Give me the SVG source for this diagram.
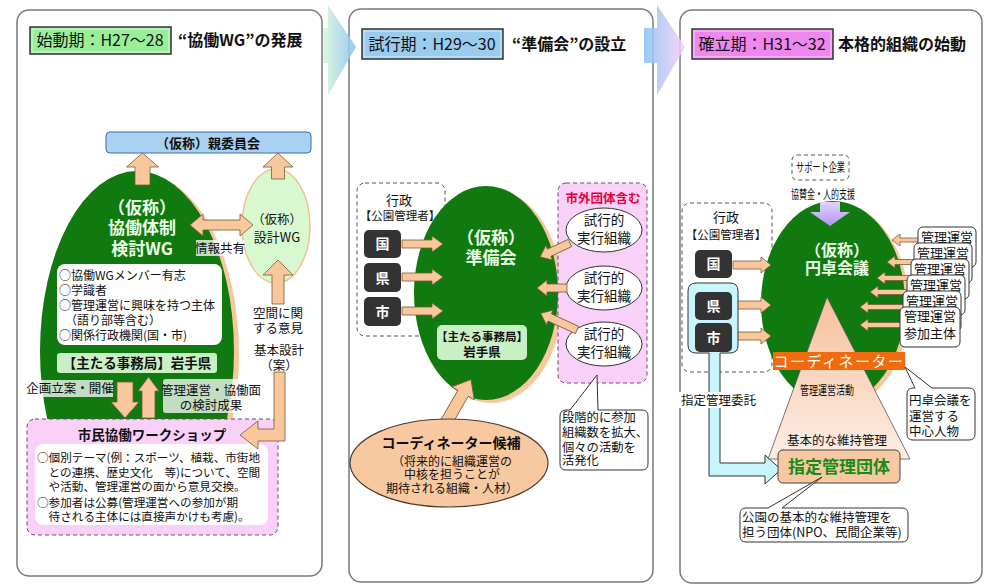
<svg xmlns="http://www.w3.org/2000/svg" width="986" height="586" viewBox="0 0 986 586">
<defs>
<linearGradient id="g1" x1="0" y1="0" x2="1" y2="0"><stop offset="0" stop-color="#d8f6d8"/><stop offset="1" stop-color="#86c2f0"/></linearGradient>
<linearGradient id="g2" x1="0" y1="0" x2="1" y2="0"><stop offset="0" stop-color="#88c2f4"/><stop offset="1" stop-color="#f8ccf8"/></linearGradient>
<linearGradient id="gl" x1="0" y1="0" x2="0" y2="1"><stop offset="0" stop-color="#e2d4fa"/><stop offset="1" stop-color="#b494f0"/></linearGradient>
<linearGradient id="gt" x1="0" y1="0" x2="0" y2="1"><stop offset="0" stop-color="#f5c09a"/><stop offset="1" stop-color="#fdeee6"/></linearGradient>
</defs>
<style>
text{font-family:"Noto Sans CJK JP","Noto Sans CJK SC",sans-serif;fill:#111}
.panel{fill:#fff;stroke:#7a7a7a;stroke-width:1.5}
.pe{fill:#f8c79c;stroke:#7a5a3a;stroke-width:0.8}
.green{fill:#107a10}
.shadow{fill:#f8c79c}
.lg{fill:#c9f0c4}
.wbg{fill:#fff;opacity:0.75}
.dash{fill:#fff;stroke:#555;stroke-width:1;stroke-dasharray:4 3}
.pink{fill:#f8d0f8;stroke:#6a4a6a;stroke-width:1;stroke-dasharray:4 3}
.dark{fill:#333}
.wt{fill:#fff;font-weight:bold}
.gt{fill:#eaffe6;font-weight:bold}
.c{text-anchor:middle}
.b{font-weight:bold}
.call{fill:#fff;stroke:#333;stroke-width:1}
.badge{stroke:#333;stroke-width:1.5}
.bin{fill:none;stroke:#fff;stroke-opacity:0.6;stroke-width:1}
</style>

<!-- panels -->
<g id="panel1"><rect class="panel" x="17" y="10" width="305" height="566" rx="12"/></g>
<g id="panel2"><rect class="panel" x="349" y="9" width="304" height="573" rx="12"/></g>
<g id="panel3"><rect class="panel" x="680" y="10" width="302" height="573" rx="12"/></g>

<!-- phase chevrons -->
<g id="chevrons">
<polygon points="323,28 328,28 328,5 356,47 328,95 328,63 323,63" fill="url(#g1)" opacity="0.85"/>
<polygon points="644,28 657,28 657,5 685,47 657,95 657,63 644,63" fill="url(#g2)" opacity="0.85"/>
</g>

<!-- ===== Panel 1 ===== -->
<g id="p1-title">
<rect class="badge" x="30" y="27" width="141" height="27" fill="#99ee99"/>
<rect class="bin" x="32" y="29" width="137" height="23"/>
<text class="c" x="100" y="46" font-size="16">始動期：H27～28</text>
<text class="b" x="178" y="46" font-size="16">“協働WG”の発展</text>
</g>

<g id="p1-oyaiinkai">
<rect x="106" y="132" width="205" height="21" rx="4" fill="#a9d2f2" stroke="#3a6aa8" stroke-width="1"/>
<text class="c b" x="208" y="147.5" font-size="13">（仮称）親委員会</text>
</g>

<g id="p1-kyodo-wg">
<ellipse class="shadow" cx="142" cy="354" rx="97" ry="180"/>
<ellipse class="green" cx="137" cy="351" rx="97" ry="180"/>
<text class="c gt" font-size="17"><tspan x="142" y="214">（仮称）</tspan><tspan x="142" y="234">協働体制</tspan><tspan x="142" y="255">検討WG</tspan></text>
<rect x="57" y="264" width="165" height="81" rx="8" fill="#fff"/>
<text font-size="12"><tspan x="59" y="280">○協働WGメンバー有志</tspan><tspan x="59" y="295">○学識者</tspan><tspan x="59" y="310">○管理運営に興味を持つ主体</tspan><tspan x="59" y="325">　（語り部等含む）</tspan><tspan x="59" y="340">○関係行政機関(国・市)</tspan></text>
<rect class="lg" x="57" y="353" width="160" height="20" rx="3"/>
<text class="c b" x="137" y="368" font-size="13.5">【主たる事務局】岩手県</text>
</g>

<g id="p1-sekkei-wg">
<ellipse cx="276" cy="226" rx="34" ry="57" fill="#d8f8d0" stroke="#f0c090" stroke-width="1.5"/>
<text class="c" font-size="12.5"><tspan x="277" y="223.5">（仮称）</tspan><tspan x="277" y="241.5" font-size="13">設計WG</tspan></text>
</g>

<g id="p1-workshop">
<rect class="pink" x="27" y="419" width="251" height="116" rx="8"/>
<text class="c b" x="152" y="440" font-size="13.5">市民協働ワークショップ</text>
<rect x="35" y="444" width="233" height="81" rx="8" fill="#fff"/>
<text font-size="11.6"><tspan x="37" y="462">○個別テーマ(例：スポーツ、植栽、市街地</tspan><tspan x="37" y="477">　との連携、歴史文化　等)について、空間</tspan><tspan x="37" y="491">　や活動、管理運営の面から意見交換。</tspan><tspan x="37" y="507">○参加者は公募(管理運営への参加が期</tspan><tspan x="37" y="521">　待される主体には直接声かけも考慮)。</tspan></text>
</g>

<g id="p1-connectors">
<polygon class="pe" points="142.5,153 158.5,167 150,167 150,185 135,185 135,167 126.5,167"/>
<polygon class="pe" points="278,153 293,167 284.5,167 284.5,179 271.5,179 271.5,167 263,167"/>
<polygon class="pe" points="190,225 203,214 203,220 240,220 240,214 253,225 240,236 240,230 203,230 203,236"/>
<rect class="wbg" x="196" y="240" width="48" height="16"/>
<text class="c" x="220" y="252.5" font-size="12.5">情報共有</text>
<polygon class="pe" points="278,260 293,275 284,275 284,304 272,304 272,275 263,275"/>
<text class="c" font-size="12.5"><tspan x="278" y="317.5">空間に関</tspan><tspan x="278" y="332.5">する意見</tspan><tspan x="279" y="354.5">基本設計</tspan><tspan x="279" y="369.5">（案）</tspan></text>
<polygon class="pe" points="274,372 285,372 285,441 258,441 258,449 240,435 258,421 258,429 274,429"/>
<polygon class="pe" points="117,382 133,382 133,402 139,402 125,418 111,402 117,402"/>
<polygon class="pe" points="148.5,377 159,391 155,391 155,418 142,418 142,391 138,391"/>
<rect class="wbg" x="26" y="380" width="87" height="17"/>
<text class="c" x="70" y="392.5" font-size="12.5">企画立案・開催</text>
<rect class="wbg" x="163" y="379" width="95" height="34" rx="3"/>
<text class="c" font-size="12.5"><tspan x="211" y="394.5">管理運営・協働面</tspan><tspan x="211" y="409.5">の検討成果</tspan></text>
</g>

<!-- ===== Panel 2 ===== -->
<g id="p2-title">
<rect class="badge" x="362" y="29" width="141" height="30" fill="#99ccee"/>
<rect class="bin" x="364" y="31" width="137" height="26"/>
<text class="c" x="432" y="50" font-size="16">試行期：H29～30</text>
<text class="b" x="512" y="50" font-size="16">“準備会”の設立</text>
</g>

<g id="p2-gyosei">
<rect class="dash" x="357" y="183" width="88" height="153" rx="8"/>
<text class="c" font-size="13"><tspan x="399" y="204.5">行政</tspan><tspan x="400" y="220" font-size="11.5">【公園管理者】</tspan></text>
<rect class="dark" x="364" y="230" width="37" height="28" rx="5"/>
<text class="c wt" x="382.5" y="249" font-size="14">国</text>
<rect class="dark" x="364" y="263" width="37" height="29" rx="5"/>
<text class="c wt" x="382.5" y="282.5" font-size="14">県</text>
<rect class="dark" x="364" y="297" width="37" height="29" rx="5"/>
<text class="c wt" x="382.5" y="316.5" font-size="14">市</text>
</g>

<g id="p2-junbikai">
<ellipse class="shadow" cx="491" cy="296" rx="72" ry="107"/>
<ellipse class="green" cx="486" cy="293" rx="72" ry="107"/>
<text class="c gt" font-size="17"><tspan x="491" y="244">（仮称）</tspan><tspan x="491" y="264">準備会</tspan></text>
<rect class="lg" x="437" y="325" width="90" height="35" rx="5"/>
<text class="c b" font-size="11.5"><tspan x="482" y="340.5">【主たる事務局】</tspan><tspan x="482" y="356.5" font-size="12.5">岩手県</tspan></text>
</g>

<g id="p2-shigai">
<rect class="pink" x="558" y="183" width="89" height="200" rx="8"/>
<text class="c b" x="603" y="202.5" font-size="12.5" style="fill:#e8003a">市外団体含む</text>
<ellipse cx="604" cy="230" rx="38" ry="22" fill="#fff" stroke="#333"/>
<text class="c" font-size="13.5"><tspan x="604" y="225">試行的</tspan><tspan x="604" y="243">実行組織</tspan></text>
<ellipse cx="604" cy="288" rx="38" ry="22" fill="#fff" stroke="#333"/>
<text class="c" font-size="13.5"><tspan x="604" y="283">試行的</tspan><tspan x="604" y="301">実行組織</tspan></text>
<ellipse cx="604" cy="344" rx="38" ry="22" fill="#fff" stroke="#333"/>
<text class="c" font-size="13.5"><tspan x="604" y="339">試行的</tspan><tspan x="604" y="357">実行組織</tspan></text>
</g>

<g id="p2-connectors">
<polygon class="pe" points="402,240 432,240 432,236 443,244 432,252 432,248 402,248"/>
<polygon class="pe" points="402,273 432,273 432,269 443,277 432,285 432,281 402,281"/>
<polygon class="pe" points="402,307 432,307 432,303 443,311 432,319 432,315 402,315"/>
<polygon class="pe" transform="translate(570,243) rotate(155)" points="0,-4 23,-4 23,-8 33,0 23,8 23,4 0,4"/>
<polygon class="pe" transform="translate(567,288) rotate(180)" points="0,-4 20,-4 20,-8 30,0 20,8 20,4 0,4"/>
<polygon class="pe" transform="translate(577,330) rotate(204.7)" points="0,-4 30,-4 30,-8 40,0 30,8 30,4 0,4"/>
<polygon class="pe" transform="translate(443,428) rotate(-60)" points="0,-6 40,-6 40,-13 56,0 40,13 40,6 0,6"/>
</g>

<g id="p2-coordinator">
<ellipse cx="449" cy="463" rx="99" ry="44" fill="#f8c8a0" stroke="#4a3a2a" stroke-width="1.2"/>
<text class="c" font-size="12"><tspan x="451" y="448" font-size="14" font-weight="bold">コーディネーター候補</tspan><tspan x="452" y="465.5">（将来的に組織運営の</tspan><tspan x="452" y="478.5">中核を担うことが</tspan><tspan x="452" y="492.5">期待される組織・人材）</tspan></text>
</g>

<g id="p2-callout">
<path class="call" d="M566,410 H570 L597,375 L598,410 H642 Q648,410 648,416 V464 Q648,470 642,470 H566 Q560,470 560,464 V416 Q560,410 566,410 Z"/>
<text font-size="12.3"><tspan x="562" y="421.5">段階的に参加</tspan><tspan x="562" y="436.5">組織数を拡大、</tspan><tspan x="562" y="451.5">個々の活動を</tspan><tspan x="562" y="464.5">活発化</tspan></text>
</g>

<!-- ===== Panel 3 ===== -->
<g id="p3-title">
<rect class="badge" x="692" y="29" width="141" height="30" fill="#ee88ee"/>
<rect class="bin" x="694" y="31" width="137" height="26"/>
<text class="c" x="762" y="50" font-size="16">確立期：H31～32</text>
<text class="b" x="838" y="50" font-size="16">本格的組織の始動</text>
</g>

<g id="p3-support">
<rect class="dash" x="792" y="155" width="57" height="25" rx="5"/>
<text class="c" x="820.5" y="172" font-size="12.5" textLength="49" lengthAdjust="spacingAndGlyphs">サポート企業</text>
<text class="c" x="823" y="199" font-size="12.5" textLength="64" lengthAdjust="spacingAndGlyphs">協賛金・人的支援</text>
</g>

<g id="p3-gyosei">
<rect class="dash" x="682" y="203" width="90" height="169" rx="8"/>
<text class="c" font-size="13"><tspan x="726" y="221.5">行政</tspan><tspan x="726" y="239" font-size="11.5">【公園管理者】</tspan></text>
</g>

<g id="p3-entaku">
<ellipse class="shadow" cx="837" cy="306" rx="72" ry="102"/>
<ellipse class="green" cx="833" cy="303" rx="72" ry="102"/>
<text class="c gt" font-size="16"><tspan x="837" y="256">（仮称）</tspan><tspan x="837" y="274">円卓会議</tspan></text>
</g>

<g id="p3-connectors">
<polygon fill="url(#gl)" points="820,202 840,202 840,212 850,212 830,226 810,212 820,212"/>
<polygon class="pe" points="733,261 761,261 761,257 771,265 761,273 761,269 733,269"/>
<polygon class="pe" points="733,301 761,301 761,297 771,305 761,313 761,309 733,309"/>
<polygon class="pe" points="733,332 761,332 761,328 771,336 761,344 761,340 733,340"/>
<polygon class="pe" points="919,238 900,238 900,234 892,240 900,246 900,242 919,242"/>
<polygon class="pe" points="915,259.5 895,259.5 895,256 887,262 895,268 895,264.5 915,264.5"/>
<polygon class="pe" points="912,275.5 885,275.5 885,272 877,278 885,284 885,280.5 912,280.5"/>
<polygon class="pe" points="908,289.5 878,289.5 878,286 870,292 878,298 878,294.5 908,294.5"/>
<polygon class="pe" points="904,304.5 868,304.5 868,301 860,307 868,313 868,309.5 904,309.5"/>
<polygon class="pe" points="901,322.5 868,322.5 868,319 860,325 868,331 868,327.5 901,327.5"/>
<path d="M696,283 H730 Q738,283 738,291 V345 Q738,353 730,353 H720 V463 H765 V455 L781,469.5 L765,484 V476 H709 V353 H696 Q688,353 688,345 V291 Q688,283 696,283 Z" fill="#c8f4fc" stroke="#333" stroke-width="1"/>
<rect x="679" y="392" width="78" height="16" fill="#fff"/>
<text x="681" y="404.5" font-size="12.5">指定管理委託</text>
</g>

<g id="p3-gov-boxes">
<rect class="dark" x="695" y="250" width="37" height="28" rx="5"/>
<text class="c wt" x="713.5" y="269" font-size="14">国</text>
<rect class="dark" x="695" y="292" width="37" height="28" rx="5"/>
<text class="c wt" x="713.5" y="311" font-size="14">県</text>
<rect class="dark" x="695" y="323" width="37" height="29" rx="5"/>
<text class="c wt" x="713.5" y="342.5" font-size="14">市</text>
</g>

<g id="p3-kanri-boxes">
<rect class="call" x="918" y="227" width="58" height="40" rx="5"/>
<text class="c" x="947" y="241.7" font-size="13">管理運営</text>
<rect class="call" x="914" y="243" width="58" height="40" rx="5"/>
<text class="c" x="943" y="257.7" font-size="13">管理運営</text>
<rect class="call" x="911" y="259" width="58" height="40" rx="5"/>
<text class="c" x="940" y="273.7" font-size="13">管理運営</text>
<rect class="call" x="907" y="275" width="58" height="40" rx="5"/>
<text class="c" x="936" y="289.7" font-size="13">管理運営</text>
<rect class="call" x="903" y="291" width="58" height="40" rx="5"/>
<text class="c" x="932" y="305.7" font-size="13">管理運営</text>
<rect class="call" x="900" y="307" width="60" height="40" rx="5"/>
<text class="c" font-size="13"><tspan x="930" y="320.7">管理運営</tspan><tspan x="930" y="337.5">参加主体</tspan></text>
</g>

<g id="p3-pyramid">
<polygon points="827,297 910,459 768,459" fill="url(#gt)" stroke="#555" stroke-width="0.8"/>
<rect x="773" y="352" width="132" height="18" fill="#f26a0e"/>
<text class="c" x="839" y="366.5" font-size="15" letter-spacing="1.5" style="fill:#fff">コーディネーター</text>
<text class="c" x="827" y="394.5" font-size="12.5" textLength="54" lengthAdjust="spacingAndGlyphs">管理運営活動</text>
<text class="c" x="837" y="444.5" font-size="12.5">基本的な維持管理</text>
</g>

<g id="p3-shitei">
<rect x="778" y="450" width="122" height="33" rx="5" fill="#f8c8a0" stroke="#444" stroke-width="1"/>
<text class="c b" x="839" y="472.5" font-size="17" style="fill:#1a8a1a">指定管理団体</text>
</g>

<g id="p3-callouts">
<path class="call" d="M913,388 H915 L905,367 L932,388 H969 Q975,388 975,394 V434 Q975,440 969,440 H913 Q907,440 907,434 V394 Q907,388 913,388 Z"/>
<text font-size="12.5"><tspan x="909" y="404.5">円卓会議を</tspan><tspan x="909" y="421">運営する</tspan><tspan x="909" y="436">中心人物</tspan></text>
<path class="call" d="M746,508 H768 L822,477 L782,508 H902 Q908,508 908,514 V536 Q908,542 902,542 H746 Q740,542 740,536 V514 Q740,508 746,508 Z"/>
<text font-size="12.5"><tspan x="742" y="521.5">公園の基本的な維持管理を</tspan><tspan x="742" y="536.5">担う団体(NPO、民間企業等)</tspan></text>
</g>
</svg>
